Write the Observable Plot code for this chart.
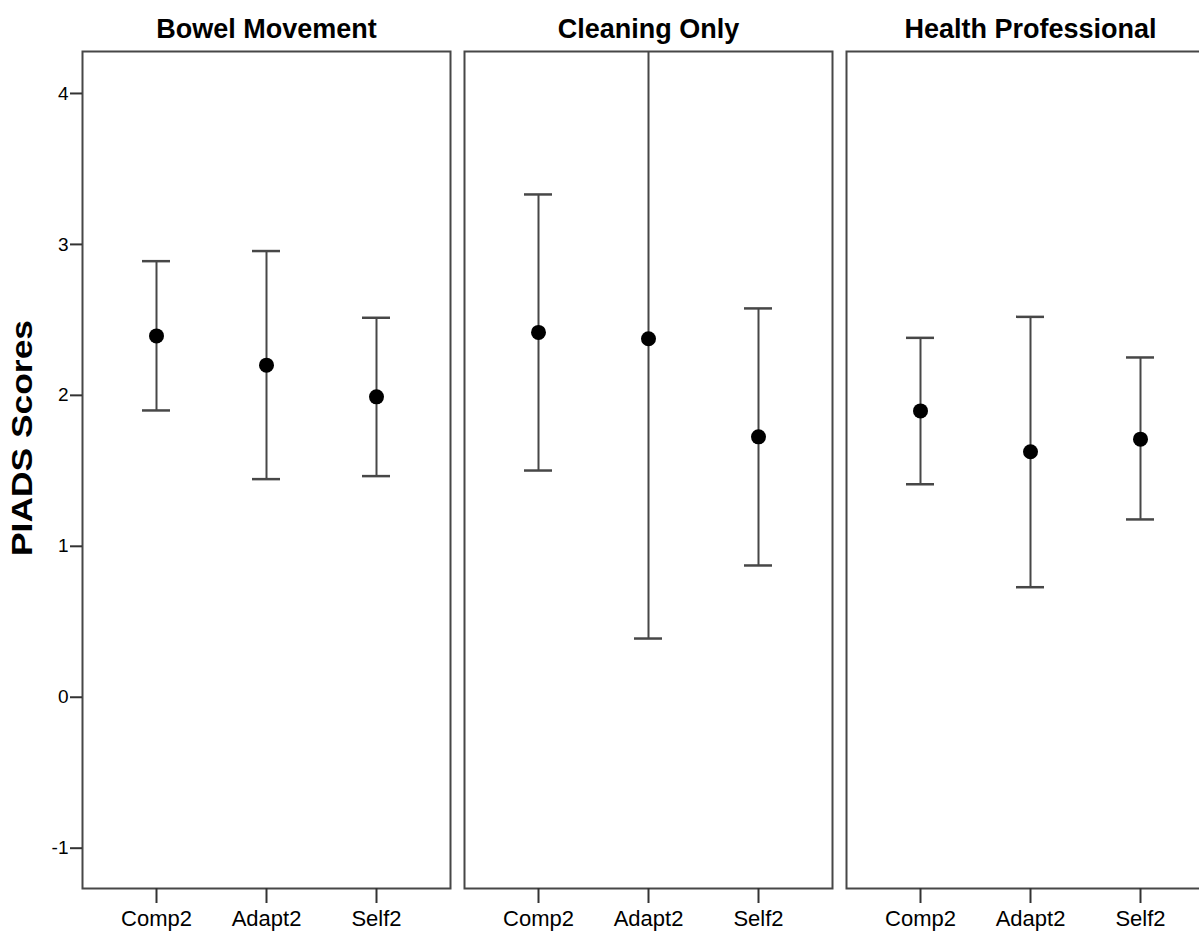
<!DOCTYPE html>
<html>
<head>
<meta charset="utf-8">
<script src="https://cdn.jsdelivr.net/npm/d3@7"></script>
<script src="https://cdn.jsdelivr.net/npm/@observablehq/plot@0.6"></script>
<style>
  html, body { margin: 0; padding: 0; background: #fff; overflow: hidden; }
  #chart { position: relative; width: 1216px; }
</style>
</head>
<body>
<div id="chart"></div>
<script>
const groups = ["Bowel Movement", "Cleaning Only", "Health Professional"];
const conditions = ["Comp2", "Adapt2", "Self2"];
const means = [[2.394, 2.200, 1.990], [2.417, 2.375, 1.725], [1.897, 1.626, 1.710]];
const lower = [[1.900, 1.445, 1.465], [1.502, 0.389, 0.873], [1.411, 0.729, 1.178]];
const upper = [[2.889, 2.956, 2.514], [3.331, 4.360, 2.576], [2.381, 2.520, 2.251]];
const yTicks = [-1, 0, 1, 2, 3, 4];
const yLabel = "PIADS Scores";

const data = [];
groups.forEach((g, i) => conditions.forEach((c, j) => {
  data.push({group: g, cond: c, mean: means[i][j], lo: lower[i][j], hi: upper[i][j]});
}));

const font = "Arial, 'Liberation Sans', sans-serif";
const lineColor = "#474747";

const plot = Plot.plot({
  width: 1216,
  height: 931,
  marginLeft: 82,
  marginRight: 2,
  marginTop: 51,
  marginBottom: 43,
  style: {fontFamily: font, color: "#000", background: "#fff"},
  fx: {domain: groups, paddingInner: 0.03665, paddingOuter: 0, label: null},
  x: {type: "band", domain: conditions, paddingInner: 0.7473, paddingOuter: 0.5343, label: null},
  y: {domain: [-1.267, 4.278], label: null},
  marks: [
    Plot.frame({stroke: lineColor, strokeWidth: 2}),
    Plot.axisFx({anchor: "top", label: null, tickSize: 0, tickPadding: 14, fontSize: 27, fontWeight: "bold", fill: "#000"}),
    Plot.axisX({tickSize: 15, tickPadding: 7, fontSize: 22, stroke: "#333", strokeWidth: 2, fill: "#000", label: null}),
    Plot.axisY({ticks: yTicks, tickSize: 12, tickPadding: 2, fontSize: 19, stroke: "#333", strokeWidth: 2, fill: "#000", label: null, tickFormat: d => String(d)}),
    Plot.ruleX(data, {fx: "group", x: "cond", y1: "lo", y2: "hi", stroke: lineColor, strokeWidth: 2, clip: "frame"}),
    Plot.tickY(data, {fx: "group", x: "cond", y: "lo", stroke: lineColor, strokeWidth: 2.5, clip: "frame"}),
    Plot.tickY(data, {fx: "group", x: "cond", y: "hi", stroke: lineColor, strokeWidth: 2.5, clip: "frame"}),
    Plot.dot(data, {fx: "group", x: "cond", y: "mean", r: 7.5, fill: "#000", stroke: "none"})
  ]
});

d3.select(plot).append("text")
  .attr("transform", "translate(32,438) rotate(-90)")
  .attr("text-anchor", "middle")
  .attr("font-family", font)
  .attr("font-weight", "bold")
  .attr("font-size", 29)
  .attr("textLength", 236)
  .attr("lengthAdjust", "spacingAndGlyphs")
  .attr("fill", "#000")
  .text(yLabel);

document.getElementById("chart").appendChild(plot);
</script>
</body>
</html>
